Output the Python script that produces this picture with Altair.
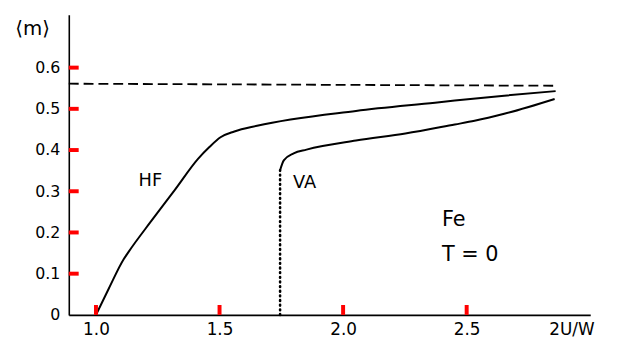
import altair as alt
import pandas as pd

# Hartree-Fock curve
hf_x = [1.0, 1.052, 1.112, 1.132, 1.224, 1.32, 1.412, 1.46, 1.504, 1.56, 1.652, 2.052, 2.372, 2.452, 2.652, 2.86]
hf_y = [0.0, 0.064, 0.135, 0.153, 0.228, 0.304, 0.378, 0.408, 0.431, 0.445, 0.459, 0.495, 0.515, 0.520, 0.532, 0.543]
# Variational curve
va_x = [1.745, 1.76, 1.80, 1.852, 2.052, 2.252, 2.452, 2.532, 2.652, 2.856]
va_y = [0.351, 0.375, 0.392, 0.401, 0.423, 0.440, 0.462, 0.471, 0.488, 0.524]
# dotted jump at VA onset
jump_x = [1.745, 1.745]
jump_y = [0.0, 0.351]
# dashed saturation line
sat_x = [0.89, 2.86]
sat_y = [0.561, 0.556]

x_ticks = [1.0, 1.5, 2.0, 2.5]
x_label_vals = [1.0, 1.5, 2.0, 2.5, 2.924]
y_ticks = [0.1, 0.2, 0.3, 0.4, 0.5, 0.6]
y_label_vals = [0.0, 0.1, 0.2, 0.3, 0.4, 0.5, 0.6]

labels_txt = ["HF", "VA"]
labels_x = [1.22, 1.844]
labels_y = [0.325, 0.32]
fe_txt = ["Fe", "T = 0"]
fe_x = [2.40, 2.40]
fe_y = [0.229, 0.144]

W, H = 527.5, 303.5
TICK = 10
FONT = "DejaVu Sans"

xs = alt.Scale(domain=[0.89, 3.0], nice=False, zero=False)
ys = alt.Scale(domain=[0, 0.728], nice=False, zero=False)

df_hf = pd.DataFrame({"x": hf_x, "y": hf_y})
df_va = pd.DataFrame({"x": va_x, "y": va_y})
df_jump = pd.DataFrame({"x": jump_x, "y": jump_y})
df_sat = pd.DataFrame({"x": sat_x, "y": sat_y})
df_lab = pd.DataFrame({"x": labels_x, "y": labels_y, "t": labels_txt})
df_fe = pd.DataFrame({"x": fe_x, "y": fe_y, "t": fe_txt})
df_xt = pd.DataFrame({"x": x_ticks})
df_yt = pd.DataFrame({"y": y_ticks})

main_x_axis = alt.Axis(values=x_label_vals, ticks=False, grid=False, title=None,
                       labelExpr="datum.value > 2.8 ? '2U/W' : format(datum.value, '.1f')",
                       labelFont=FONT, labelFontSize=17, labelColor="black", labelPadding=7,
                       domainColor="black", domainWidth=1.6, labelFlush=False, orient="bottom")
main_y_axis = alt.Axis(values=y_label_vals, ticks=False, grid=False,
                       labelExpr="datum.value == 0 ? '0' : format(datum.value, '.1f')",
                       labelFont=FONT, labelFontSize=16, labelColor="black", labelPadding=9,
                       domainColor="black", domainWidth=1.6, labelFlush=False, orient="left",
                       title="⟨m⟩", titleAngle=0, titleX=-37, titleY=14, titleFont=FONT,
                       titleFontSize=20, titleFontWeight="normal", titleAlign="center",
                       titleBaseline="middle", titleColor="black")

hf = alt.Chart(df_hf).mark_line(color="black", strokeWidth=2, interpolate="monotone").encode(
    x=alt.X("x:Q", scale=xs, axis=main_x_axis),
    y=alt.Y("y:Q", scale=ys, axis=main_y_axis),
)
va = alt.Chart(df_va).mark_line(color="black", strokeWidth=2, interpolate="monotone").encode(
    x=alt.X("x:Q", scale=xs),
    y=alt.Y("y:Q", scale=ys),
)
jump = alt.Chart(df_jump).mark_line(color="black", strokeWidth=2.6, strokeDash=[0.8, 3.9],
                                    strokeCap="round").encode(
    x=alt.X("x:Q", scale=xs),
    y=alt.Y("y:Q", scale=ys),
)
sat = alt.Chart(df_sat).mark_line(color="black", strokeWidth=1.8, strokeDash=[10, 5]).encode(
    x=alt.X("x:Q", scale=xs),
    y=alt.Y("y:Q", scale=ys),
)
xt = alt.Chart(df_xt).mark_rule(color="red", strokeWidth=4).encode(
    x=alt.X("x:Q", scale=xs),
    y=alt.value(H),
    y2=alt.value(H - TICK),
)
yt = alt.Chart(df_yt).mark_rule(color="red", strokeWidth=4).encode(
    y=alt.Y("y:Q", scale=ys),
    x=alt.value(0),
    x2=alt.value(TICK),
)
lab = alt.Chart(df_lab).mark_text(font=FONT, fontSize=18, color="black").encode(
    x=alt.X("x:Q", scale=xs),
    y=alt.Y("y:Q", scale=ys),
    text="t:N",
)
fe = alt.Chart(df_fe).mark_text(font=FONT, fontSize=21, color="black", align="left").encode(
    x=alt.X("x:Q", scale=xs),
    y=alt.Y("y:Q", scale=ys),
    text="t:N",
)

chart = alt.layer(hf, va, jump, sat, lab, fe, xt, yt).properties(
    width=W, height=H, autosize="none",
    padding={"left": 61.5, "top": 5, "right": 20, "bottom": 28},
    background="white",
).configure_view(stroke="white")

chart.save("out.html", embed_options={"renderer": "svg", "actions": False})
